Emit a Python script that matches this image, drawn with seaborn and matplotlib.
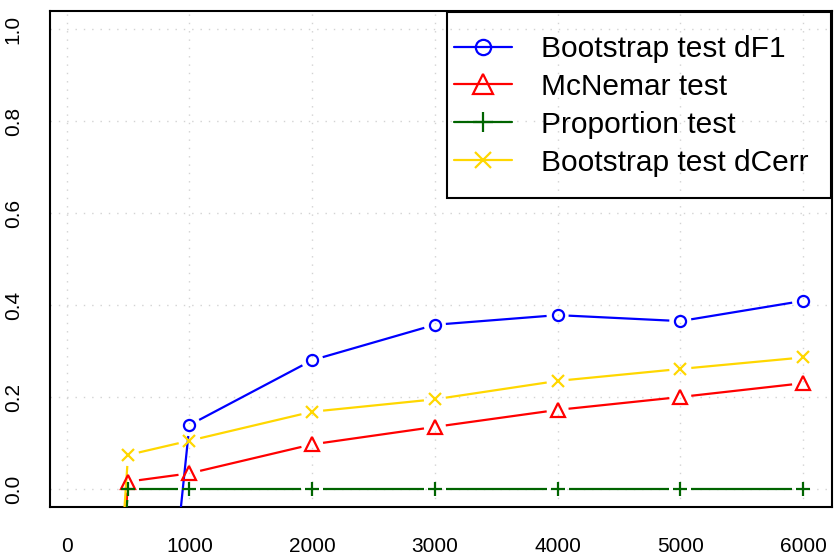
import numpy as np
import matplotlib
matplotlib.use("Agg")
import matplotlib.pyplot as plt
import seaborn as sns
from matplotlib.lines import Line2D
from matplotlib.patches import Rectangle

# data ---------------------------------------------------------------------
sizes = [100, 500, 1000, 2000, 3000, 4000, 5000, 6000]
boot_df1 = [-2.0, -1.15, 0.139, 0.280, 0.357, 0.378, 0.365, 0.409]
mcnemar = [-1.5, 0.016, 0.034, 0.097, 0.135, 0.172, 0.200, 0.230]
proportion = [-1.5, 0.0, 0.0, 0.0, 0.0, 0.0, 0.0, 0.0]
boot_dcerr = [-1.5, 0.074, 0.105, 0.168, 0.195, 0.235, 0.261, 0.286]

labels = ["Bootstrap test dF1", "McNemar test", "Proportion test", "Bootstrap test dCerr"]
xticks = [0, 1000, 2000, 3000, 4000, 5000, 6000]
yticks = [0.0, 0.2, 0.4, 0.6, 0.8, 1.0]

sns.set_style("white")
plt.rcParams["font.family"] = ["Liberation Sans", "DejaVu Sans"]
plt.rcParams["text.color"] = "black"
plt.rcParams["xtick.color"] = "black"
plt.rcParams["ytick.color"] = "black"

fig = plt.figure(figsize=(8.36, 5.59), dpi=100)
ax = fig.add_axes([50 / 836, 1 - 507.4 / 559, 782 / 836, 496.8 / 559])

ax.set_xlim(-136, 6236)
ax.set_ylim(-0.04, 1.04)
ax.set_xticks(xticks)
ax.set_yticks(yticks)
ax.set_xticklabels([str(t) for t in xticks])
ax.set_yticklabels([f"{t:.1f}" for t in yticks])
ax.tick_params(direction="out", length=8.6, width=1, labelsize=15, colors="black")
ax.tick_params(axis="x", pad=12.5)
ax.tick_params(axis="y", pad=11, labelrotation=90)
for lab in ax.get_yticklabels():
    lab.set_va("center")

ax.grid(True, color="lightgray", linestyle=(0, (1, 5)), linewidth=1)
ax.set_axisbelow(True)
for s in ax.spines.values():
    s.set_linewidth(1.5)
    s.set_color("black")


def gapped(ax, xs, ys, gap, **kw):
    # lines between points, broken around each marker (R type="b")
    pts = ax.transData.transform(np.column_stack([xs, ys]))
    inv = ax.transData.inverted()
    for p, q in zip(pts[:-1], pts[1:]):
        d = q - p
        L = np.hypot(*d)
        if L <= 2 * gap:
            continue
        u = d / L
        seg = inv.transform(np.array([p + u * gap, q - u * gap]))
        ax.plot(seg[:, 0], seg[:, 1], **kw)


# colour, marker, size on the plot, size in the legend
series = [
    (boot_df1, "blue", "o", 8, 11),
    (mcnemar, "red", "^", 10, 14),
    (proportion, "#006400", "+", 10, 14),
    (boot_dcerr, "#FFD700", "x", 9, 12),
]

handles = []
for ys, col, mk, ms, lms in series:
    gapped(ax, sizes, ys, 11, color=col, lw=1.6, solid_capstyle="butt", zorder=3)
    sns.lineplot(x=sizes, y=ys, ax=ax, linestyle="none", marker=mk, markersize=ms,
                 markerfacecolor="none", markeredgecolor=col, markeredgewidth=1.6,
                 color=col, sort=False, zorder=4)
    handles.append(Line2D([0], [0], color=col, lw=1.6, marker=mk, markersize=lms,
                          markerfacecolor="none", markeredgecolor=col, markeredgewidth=1.6))

leg = ax.legend(handles, labels, loc="upper left",
                bbox_to_anchor=(454 / 836, 1 - 35 / 559), bbox_transform=fig.transFigure,
                frameon=False, fontsize=21.5, borderpad=0, borderaxespad=0,
                handlelength=1.94, handletextpad=0.97, labelspacing=0.33)
for t in leg.get_texts():
    t.set_color("black")

fig.patches.append(Rectangle((447 / 836, 1 - 198 / 559), 384 / 836, 186 / 559,
                             transform=fig.transFigure, fill=False,
                             edgecolor="black", linewidth=1.5, zorder=5))

fig.savefig("out.png", dpi=100)
